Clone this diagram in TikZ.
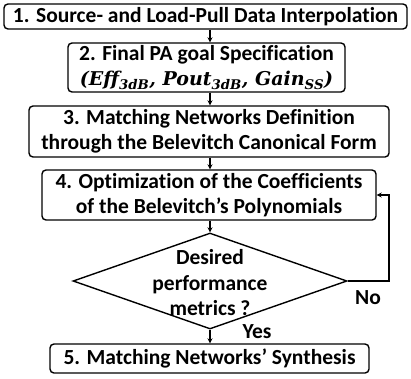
\documentclass[tikz,border=0pt]{standalone}
\usepackage{fontspec}
\setmainfont{Carlito}[Ligatures=NoCommon]
\newfontfamily\mfont{DejaVu Serif}
\usetikzlibrary{shapes.geometric,arrows.meta}
\begin{document}
\begin{tikzpicture}[x=1pt,y=-1pt,
  box/.style={draw,rounded corners=4pt,line width=1.4pt,inner sep=0pt,align=center,
    font=\fontsize{21.5}{25.5}\selectfont\bfseries},
  lbl/.style={font=\fontsize{21.5}{25.5}\selectfont\bfseries,align=center,inner sep=0pt},
  arr/.style={line width=1.2pt,-{Stealth[length=5pt,width=5pt]}}]
\useasboundingbox (0,0) rectangle (411,378);
\node[box,minimum width=403pt,minimum height=25pt] (b1) at (205.5,16.5) {1. Source- and Load-Pull Data Interpolation};
\node[box,minimum width=277pt,minimum height=49pt] (b2) at (206.5,67.5) {2. Final PA goal Specification\\{\mfont\bfseries\itshape\fontsize{19}{25.5}\selectfont (Eff\textsubscript{3dB}, Pout\textsubscript{3dB}, Gain\textsubscript{SS})}};
\node[box,minimum width=360pt,minimum height=51pt] (b3) at (209,131.5) {3. Matching Networks Definition\\through the Belevitch Canonical Form};
\node[box,minimum width=334pt,minimum height=50pt] (b4) at (209,195) {4. Optimization of the Coefficients\\of the Belevitch’s Polynomials};
\node[diamond,draw,line width=1.4pt,minimum width=274pt,minimum height=96pt,inner sep=0pt] (d) at (210,281) {};
\node[lbl] (dt) at (210,283) {Desired\\performance\\metrics ?};
\node[box,minimum width=319pt,minimum height=29pt] (b5) at (209.5,358.5) {5. Matching Networks’ Synthesis};
\coordinate (c) at (210,0);
\draw[arr] (b1.south -| c) -- (b2.north -| c);
\draw[arr] (b2.south -| c) -- (b3.north -| c);
\draw[arr] (b3.south -| c) -- (b4.north -| c);
\draw[arr] (b4.south -| c) -- (d.north);
\draw[arr] (d.south) -- (b5.north -| c);
\coordinate (r) at (389,195);
\draw[arr] (d.east) -| (r) -- (b4.east);
\node[lbl] (no) at (368,298) {No};
\node[lbl] (yes) at (257,332) {Yes};
\end{tikzpicture}
\end{document}
